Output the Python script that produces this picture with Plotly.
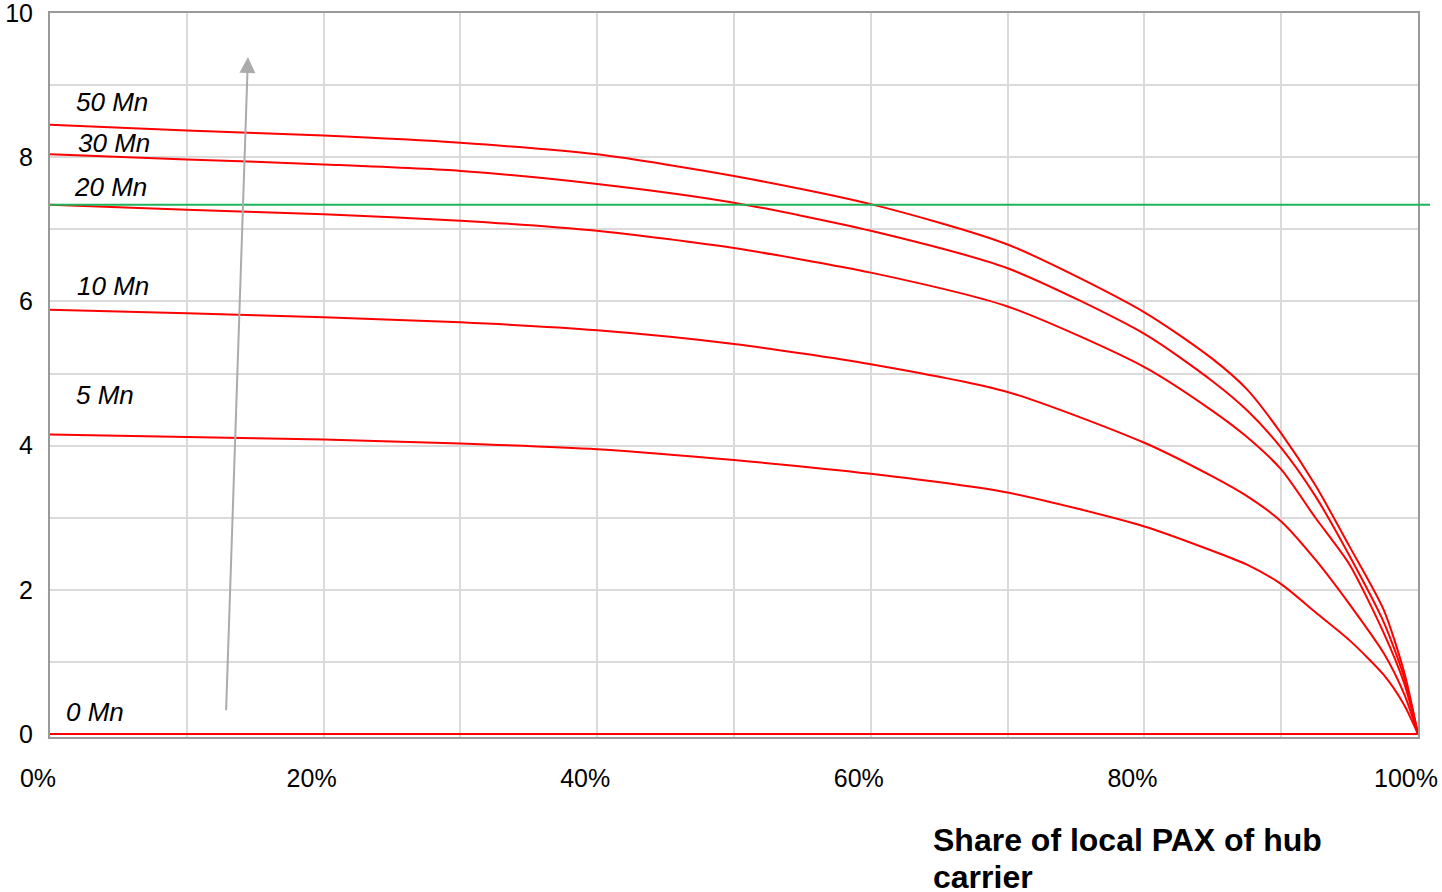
import plotly.graph_objects as go

# ---- data ----
share_pct = [0, 10, 20, 30, 40, 50, 60, 70, 80, 85, 87.5, 90, 92.5, 95, 97.5, 99, 100]

series_names = ["50 Mn", "30 Mn", "20 Mn", "10 Mn", "5 Mn", "0 Mn"]
values_50 = [8.45, 8.37, 8.30, 8.20, 8.04, 7.74, 7.35, 6.79, 5.85, 5.20, 4.78, 4.17, 3.45, 2.60, 1.72, 0.85, 0]
values_30 = [8.04, 7.97, 7.90, 7.81, 7.63, 7.37, 6.98, 6.46, 5.55, 4.89, 4.49, 3.97, 3.30, 2.47, 1.55, 0.78, 0]
values_20 = [7.34, 7.27, 7.21, 7.12, 6.98, 6.74, 6.40, 5.93, 5.09, 4.48, 4.12, 3.67, 3.00, 2.35, 1.40, 0.70, 0]
values_10 = [5.885, 5.835, 5.78, 5.71, 5.60, 5.41, 5.13, 4.745, 4.04, 3.57, 3.30, 2.95, 2.42, 1.80, 1.12, 0.55, 0]
values_5 = [4.155, 4.12, 4.085, 4.03, 3.95, 3.80, 3.61, 3.35, 2.88, 2.54, 2.35, 2.08, 1.69, 1.30, 0.82, 0.40, 0]
values_0 = [0] * len(share_pct)
threshold = 7.34

x_ticks = [0, 20, 40, 60, 80, 100]
x_tick_labels = ["0%", "20%", "40%", "60%", "80%", "100%"]
y_ticks = [0, 2, 4, 6, 8, 10]
y_tick_labels = ["0", "2", "4", "6", "8", "10"]

all_values = [values_50, values_30, values_20, values_10, values_5, values_0]

RED = "#ff0000"
GREEN = "#1fb35a"
GRID = "#dadada"
FONT = "Liberation Sans, Arial, sans-serif"

fig = go.Figure()
for name, vals in zip(series_names, all_values):
    fig.add_trace(go.Scatter(x=share_pct, y=vals, mode="lines", name=name,
                             line=dict(color=RED, width=2, shape="spline", smoothing=0.7),
                             showlegend=False))

# threshold line (extends slightly past the plot)
fig.add_shape(type="line", xref="paper", yref="y", x0=0, x1=1.0088,
              y0=threshold, y1=threshold, line=dict(color=GREEN, width=2), layer="above")

# series labels
label_pos = {"50 Mn": (1.75, 8.77), "30 Mn": (1.90, 8.20), "20 Mn": (1.60, 7.59),
             "10 Mn": (1.82, 6.21), "5 Mn": (1.75, 4.70), "0 Mn": (1.02, 0.31)}
for name in series_names:
    lx, ly = label_pos[name]
    fig.add_annotation(x=lx, y=ly, xref="x", yref="y", text=f"<i>{name}</i>",
                       showarrow=False, xanchor="left", yanchor="middle",
                       font=dict(family=FONT, size=26, color="black"))

# grey arrow
fig.add_annotation(x=14.47, y=9.39, ax=12.87, ay=0.31, xref="x", yref="y",
                   axref="x", ayref="y", text="", showarrow=True,
                   arrowhead=2, arrowsize=1.6, arrowwidth=2, arrowcolor="#ababab",
                   standoff=0, startstandoff=0)

# axis title (bold, wrapped)
fig.add_annotation(x=(931 - 50) / 1368, y=(737 - 840) / 724, xref="paper", yref="paper",
                   text="<b>Share of local PAX of hub</b>", showarrow=False,
                   xanchor="left", yanchor="middle",
                   font=dict(family=FONT, size=32, color="black"))
fig.add_annotation(x=(931 - 50) / 1368, y=(737 - 877) / 724, xref="paper", yref="paper",
                   text="<b>carrier</b>", showarrow=False,
                   xanchor="left", yanchor="middle",
                   font=dict(family=FONT, size=32, color="black"))

fig.update_xaxes(range=[0, 100], tickvals=x_ticks, ticktext=x_tick_labels,
                 showgrid=True, gridcolor=GRID, gridwidth=2,
                 minor=dict(dtick=10, showgrid=True, gridcolor=GRID, gridwidth=2),
                 showline=True, linecolor="#999999", linewidth=2, mirror=True,
                 zeroline=False, ticks="", ticklabelstandoff=18, ticklabelshift=-12,
                 automargin=False, ticklabeloverflow="allow",
                 tickfont=dict(family=FONT, size=25, color="black"))
fig.update_yaxes(range=[-0.04, 10.0001], tickvals=y_ticks, ticktext=y_tick_labels,
                 showgrid=True, gridcolor=GRID, gridwidth=2,
                 minor=dict(dtick=1, showgrid=True, gridcolor=GRID, gridwidth=2),
                 showline=True, linecolor="#999999", linewidth=2, mirror=True,
                 zeroline=False, ticks="outside", ticklen=10, tickcolor="rgba(0,0,0,0)",
                 automargin=False, ticklabeloverflow="allow",
                 tickfont=dict(family=FONT, size=25, color="black"))

fig.update_layout(width=1442, height=892, autosize=False,
                  margin=dict(l=50, r=24, t=13, b=155, autoexpand=False),
                  paper_bgcolor="white", plot_bgcolor="white",
                  font=dict(family=FONT, color="black"))

fig.write_html("out.html", config={"displayModeBar": False},
               post_script="document.body.style.margin='0';document.body.style.overflow='hidden';")
